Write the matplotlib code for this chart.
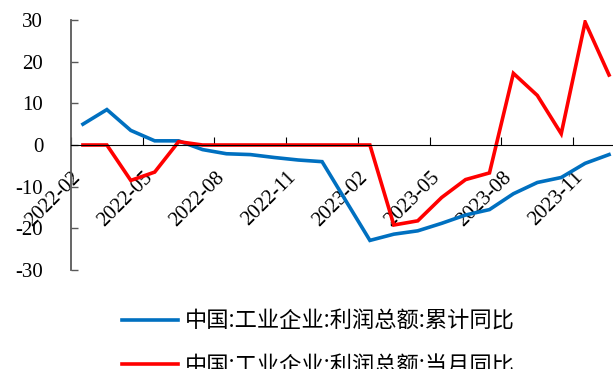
import matplotlib

matplotlib.use("Agg")

import numpy as np
import matplotlib.pyplot as plt
from matplotlib.transforms import ScaledTranslation

months = [
    "2022-02", "2022-03", "2022-04", "2022-05", "2022-06", "2022-07",
    "2022-08", "2022-09", "2022-10", "2022-11", "2022-12", "2023-01",
    "2023-02", "2023-03", "2023-04", "2023-05", "2023-06", "2023-07",
    "2023-08", "2023-09", "2023-10", "2023-11", "2023-12",
]
# cumulative YoY, 2023-01 not published
profit_ytd = [
    5.0, 8.5, 3.5, 1.0, 1.0, -1.1, -2.1, -2.3, -3.0, -3.6, -4.0, np.nan,
    -22.9, -21.4, -20.6, -18.8, -16.8, -15.5, -11.7, -9.0, -7.8, -4.4, -2.3,
]
profit_month = [
    0.0, 0.0, -8.5, -6.5, 0.8, 0.0, 0.0, 0.0, 0.0, 0.0, 0.0, 0.0,
    0.0, -19.2, -18.2, -12.6, -8.3, -6.7, 17.2, 11.9, 2.7, 29.5, 16.8,
]
series_names = ["中国:工业企业:利润总额:累计同比", "中国:工业企业:利润总额:当月同比"]
yticks = [30, 20, 10, 0, -10, -20, -30]

plt.rcParams["font.family"] = ["Liberation Serif", "DejaVu Serif"]

W, H = 613, 369
fig = plt.figure(figsize=(W / 100, H / 100), dpi=100)
ax = fig.add_axes([71 / W, 1 - 270 / H, 550 / W, 250 / H])

x = np.arange(len(months)) + 0.5
ytd = np.array(profit_ytd)
ok = ~np.isnan(ytd)
ax.plot(x[ok], ytd[ok], color="#0070C0", lw=2.6, solid_joinstyle="miter",
        label=series_names[0])
ax.plot(x, profit_month, color="#FF0000", lw=2.6, solid_joinstyle="miter",
        label=series_names[1])

ax.set_xlim(0, len(months))
ax.set_ylim(-30, 30)

# category axis sits on y=0
ax.spines["bottom"].set_position(("data", 0))
ax.spines["bottom"].set_color("#000000")
ax.spines["bottom"].set_linewidth(0.8)
ax.spines["left"].set_color("#595959")
ax.spines["left"].set_linewidth(1.3)
ax.spines["top"].set_visible(False)
ax.spines["right"].set_visible(False)

ax.set_xticks(np.arange(0, len(months) + 1, 3))
ax.set_xticklabels([])
ax.tick_params(axis="x", which="major", direction="in", length=6, width=0.8)
ax.set_xticks(x[::3], minor=True)
ax.set_xticklabels(months[::3], minor=True, rotation=45, ha="right",
                   fontsize=15)
ax.tick_params(axis="x", which="minor", length=0, pad=16.5)
shift = ScaledTranslation(2 / 100, 0, fig.dpi_scale_trans)
for lbl in ax.get_xticklabels(minor=True):
    lbl.set_transform(lbl.get_transform() + shift)

ax.set_yticks(yticks)
ax.set_yticklabels([str(v) for v in yticks], fontsize=15)
ax.tick_params(axis="y", direction="in", length=5, width=1.0,
               color="#595959", pad=20)

fig.legend(
    loc="upper left",
    bbox_to_anchor=(102 / W, 1 - 290 / H),
    frameon=False,
    prop={"family": ["Noto Sans CJK SC", "DejaVu Sans"], "size": 16},
    handlelength=2.5,
    handletextpad=0.35,
    labelspacing=0.95,
)

fig.savefig("out.png", dpi=100)
